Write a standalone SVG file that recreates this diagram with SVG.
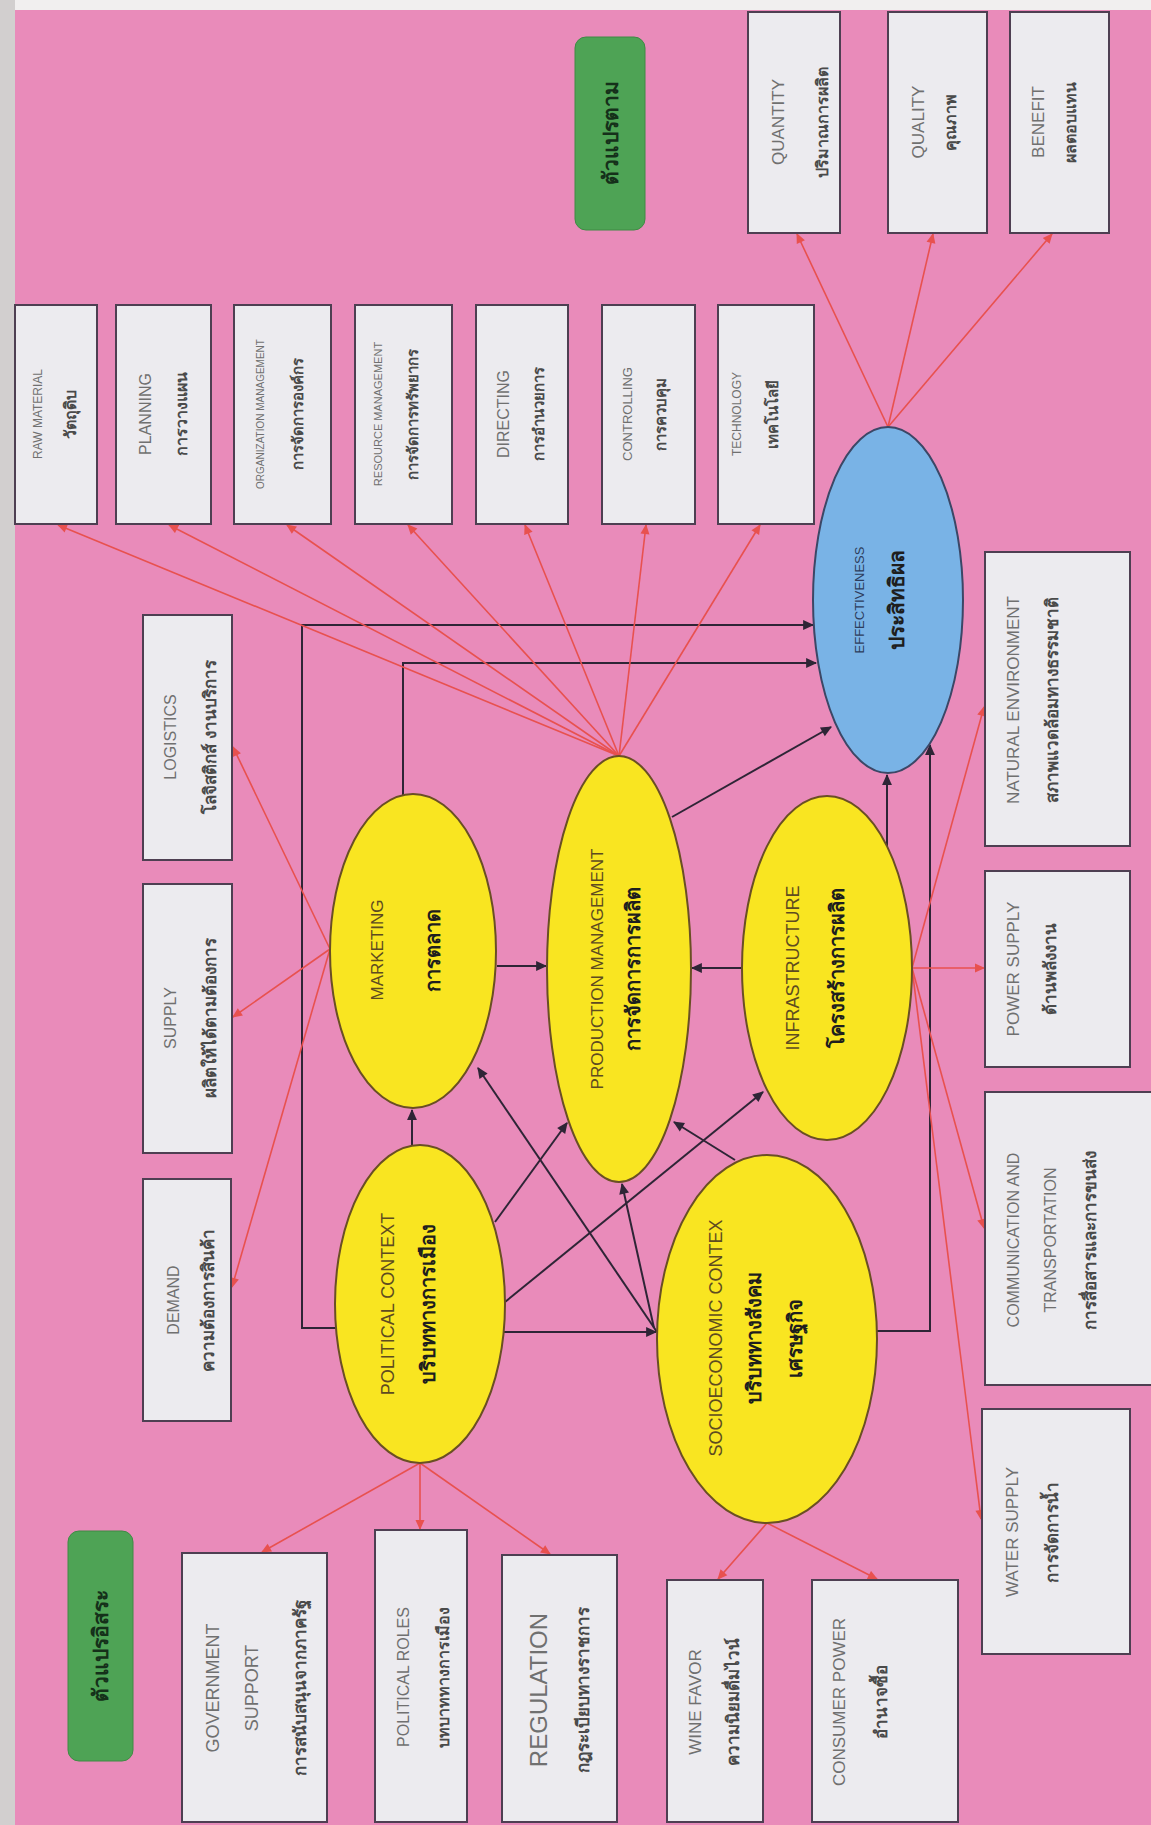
<svg xmlns="http://www.w3.org/2000/svg" width="1151" height="1825" viewBox="0 0 1151 1825">
<style>
.box{fill:#ecebef;stroke:#4e3f52;stroke-width:2}
.ell{fill:#f9e521;stroke:#6a4f24;stroke-width:2}
.blue{fill:#79b3e6;stroke:#3c4766;stroke-width:2}
.green{fill:#4ea355;stroke:#3f8a45;stroke-width:1}
text{font-family:"Liberation Sans","Noto Sans","DejaVu Sans",sans-serif;text-anchor:middle;dominant-baseline:central}
.en{fill:#707070}
.th{fill:#4a4a4a;font-weight:bold}
.een{fill:#5e4b20}
.eth{fill:#1e1e1e;font-weight:bold}
.gth{fill:#15301a;font-weight:bold;font-size:21px}
.k{fill:none;stroke:#2e2536;stroke-width:2}
.r{fill:none;stroke:#e8514f;stroke-width:1.6}
</style>
<defs>
<marker id="ak" viewBox="0 0 10 10" refX="9" refY="5" markerWidth="13" markerHeight="11" markerUnits="userSpaceOnUse" orient="auto"><path d="M0,0.5 L10,5 L0,9.5 z" fill="#2e2536"/></marker>
<marker id="ar" viewBox="0 0 10 10" refX="9" refY="5" markerWidth="11" markerHeight="10" markerUnits="userSpaceOnUse" orient="auto"><path d="M0,0.5 L10,5 L0,9.5 z" fill="#e8514f"/></marker>
</defs>
<rect x="0" y="0" width="1151" height="1825" fill="#f1efef"/>
<rect x="0" y="0" width="15" height="1825" fill="#d2cfcf"/>
<rect x="15" y="10" width="1136" height="1815" fill="#e98bba"/>

<g id="connectors">
<g id="black-connectors" marker-end="url(#ak)">
<path class="k" d="M412,1145 L412,1110"/>
<path class="k" d="M495,1222 L567,1123"/>
<path class="k" d="M505,1302 L763,1092"/>
<path class="k" d="M504,1332 L656,1332"/>
<path class="k" d="M336,1328 L302,1328 L302,625 L813,625"/>
<path class="k" d="M497,966 L546,966"/>
<path class="k" d="M403,795 L403,663 L816,663"/>
<path class="k" d="M742,968 L692,968"/>
<path class="k" d="M672,817 L831,727"/>
<path class="k" d="M887,846 L887,775"/>
<path class="k" d="M877,1331 L930,1331 L930,745"/>
<path class="k" d="M657,1332 L478,1068"/>
<path class="k" d="M654,1328 L622,1184"/>
<path class="k" d="M735,1160 L674,1122"/>
</g>
<g id="red-connectors" marker-end="url(#ar)">
<path class="r" d="M619,756 L58,525"/>
<path class="r" d="M619,756 L169,525"/>
<path class="r" d="M619,756 L287,525"/>
<path class="r" d="M619,756 L408,525"/>
<path class="r" d="M619,756 L525,525"/>
<path class="r" d="M619,756 L646,525"/>
<path class="r" d="M619,756 L760,525"/>
<path class="r" d="M330,949 L233,747"/>
<path class="r" d="M330,949 L233,1017"/>
<path class="r" d="M330,949 L232,1287"/>
<path class="r" d="M888,427 L797,234"/>
<path class="r" d="M888,427 L933,234"/>
<path class="r" d="M888,427 L1052,234"/>
<path class="r" d="M912,968 L984,707"/>
<path class="r" d="M912,968 L984,968"/>
<path class="r" d="M912,968 L984,1228"/>
<path class="r" d="M912,968 L981,1519"/>
<path class="r" d="M420,1463 L262,1552"/>
<path class="r" d="M420,1463 L420,1529"/>
<path class="r" d="M420,1463 L550,1554"/>
<path class="r" d="M767,1523 L718,1579"/>
<path class="r" d="M767,1523 L877,1579"/>
</g>
</g>

<g id="raw-material"><rect class="box" x="15" y="305" width="82" height="219"/>
<g transform="translate(56,414) rotate(-90)"><text class="en" y="-18" font-size="12">RAW MATERIAL</text><text class="th" y="14" font-size="16">วัตถุดิบ</text></g></g>
<g id="planning"><rect class="box" x="116" y="305" width="95" height="219"/>
<g transform="translate(163,414) rotate(-90)"><text class="en" y="-18" font-size="16">PLANNING</text><text class="th" y="18" font-size="16">การวางแผน</text></g></g>
<g id="organization-management"><rect class="box" x="234" y="305" width="97" height="219"/>
<g transform="translate(282,414) rotate(-90)"><text class="en" y="-22" font-size="10">ORGANIZATION MANAGEMENT</text><text class="th" y="15" font-size="15">การจัดการองค์กร</text></g></g>
<g id="resource-management"><rect class="box" x="355" y="305" width="97" height="219"/>
<g transform="translate(403,414) rotate(-90)"><text class="en" y="-25" font-size="11">RESOURCE MANAGEMENT</text><text class="th" y="9" font-size="15">การจัดการทรัพยากร</text></g></g>
<g id="directing"><rect class="box" x="476" y="305" width="92" height="219"/>
<g transform="translate(522,414) rotate(-90)"><text class="en" y="-19" font-size="16">DIRECTING</text><text class="th" y="16" font-size="15">การอำนวยการ</text></g></g>
<g id="controlling"><rect class="box" x="602" y="305" width="93" height="219"/>
<g transform="translate(648,414) rotate(-90)"><text class="en" y="-21" font-size="13">CONTROLLING</text><text class="th" y="12" font-size="15">การควบคุม</text></g></g>
<g id="technology"><rect class="box" x="718" y="305" width="96" height="219"/>
<g transform="translate(766,414) rotate(-90)"><text class="en" y="-29" font-size="12">TECHNOLOGY</text><text class="th" y="6" font-size="15">เทคโนโลยี</text></g></g>

<g id="dependent-label"><rect class="green" x="575" y="37" width="70" height="193" rx="11"/>
<text class="gth" transform="translate(610,133) rotate(-90)">ตัวแปรตาม</text></g>
<g id="quantity"><rect class="box" x="748" y="12" width="92" height="221"/>
<g transform="translate(794,122) rotate(-90)"><text class="en" y="-16" font-size="17">QUANTITY</text><text class="th" y="28" font-size="16">ปริมาณการผลิต</text></g></g>
<g id="quality"><rect class="box" x="888" y="12" width="99" height="221"/>
<g transform="translate(937,122) rotate(-90)"><text class="en" y="-19" font-size="17">QUALITY</text><text class="th" y="13" font-size="16">คุณภาพ</text></g></g>
<g id="benefit"><rect class="box" x="1010" y="12" width="99" height="221"/>
<g transform="translate(1059,122) rotate(-90)"><text class="en" y="-21" font-size="17">BENEFIT</text><text class="th" y="11" font-size="16">ผลตอบแทน</text></g></g>

<g id="logistics"><rect class="box" x="143" y="615" width="89" height="245"/>
<g transform="translate(187,737) rotate(-90)"><text class="en" y="-17" font-size="16">LOGISTICS</text><text class="th" y="23" font-size="17">โลจิสติกส์ งานบริการ</text></g></g>
<g id="supply"><rect class="box" x="143" y="884" width="89" height="269"/>
<g transform="translate(187,1018) rotate(-90)"><text class="en" y="-17" font-size="16">SUPPLY</text><text class="th" y="23" font-size="17">ผลิตให้ได้ตามต้องการ</text></g></g>
<g id="demand"><rect class="box" x="143" y="1179" width="88" height="242"/>
<g transform="translate(187,1300) rotate(-90)"><text class="en" y="-14" font-size="16">DEMAND</text><text class="th" y="21" font-size="17">ความต้องการสินค้า</text></g></g>

<g id="effectiveness"><ellipse class="blue" cx="888" cy="600" rx="75" ry="173"/>
<g transform="translate(888,600) rotate(-90)"><text y="-29" font-size="13" fill="#2d3d5c">EFFECTIVENESS</text><text class="eth" y="8" font-size="21">ประสิทธิผล</text></g></g>
<g id="marketing"><ellipse class="ell" cx="413" cy="951" rx="83" ry="157"/>
<g transform="translate(413,950) rotate(-90)"><text class="een" y="-36" font-size="17">MARKETING</text><text class="eth" y="20" font-size="20">การตลาด</text></g></g>
<g id="production-management"><ellipse class="ell" cx="619" cy="969" rx="72" ry="213"/>
<g transform="translate(619,969) rotate(-90)"><text class="een" y="-22" font-size="17">PRODUCTION MANAGEMENT</text><text class="eth" y="14" font-size="20">การจัดการการผลิต</text></g></g>
<g id="infrastructure"><ellipse class="ell" cx="827" cy="968" rx="85" ry="172"/>
<g transform="translate(827,968) rotate(-90)"><text class="een" y="-34" font-size="18">INFRASTRUCTURE</text><text class="eth" y="10" font-size="20">โครงสร้างการผลิต</text></g></g>
<g id="political-context"><ellipse class="ell" cx="420" cy="1304" rx="85" ry="159"/>
<g transform="translate(420,1304) rotate(-90)"><text class="een" y="-32" font-size="18">POLITICAL CONTEXT</text><text class="eth" y="8" font-size="20">บริบททางการเมือง</text></g></g>
<g id="socioeconomic-context"><ellipse class="ell" cx="767" cy="1339" rx="110" ry="184"/>
<g transform="translate(767,1338) rotate(-90)"><text class="een" y="-51" font-size="18">SOCIOECONOMIC CONTEX</text><text class="eth" y="-13" font-size="20">บริบททางสังคม</text><text class="eth" y="28" font-size="20">เศรษฐกิจ</text></g></g>

<g id="natural-environment"><rect class="box" x="985" y="552" width="145" height="294"/>
<g transform="translate(1057,700) rotate(-90)"><text class="en" y="-44" font-size="17">NATURAL ENVIRONMENT</text><text class="th" y="-5" font-size="17">สภาพแวดล้อมทางธรรมชาติ</text></g></g>
<g id="power-supply"><rect class="box" x="985" y="871" width="145" height="196"/>
<g transform="translate(1057,969) rotate(-90)"><text class="en" y="-44" font-size="17">POWER SUPPLY</text><text class="th" y="-7" font-size="17">ด้านพลังงาน</text></g></g>
<g id="communication-transportation"><rect class="box" x="985" y="1092" width="180" height="293"/>
<g transform="translate(1057,1240) rotate(-90)"><text class="en" y="-44" font-size="16">COMMUNICATION AND</text><text class="en" y="-7" font-size="16">TRANSPORTATION</text><text class="th" y="33" font-size="17">การสื่อสารและการขนส่ง</text></g></g>
<g id="water-supply"><rect class="box" x="982" y="1409" width="148" height="245"/>
<g transform="translate(1056,1532) rotate(-90)"><text class="en" y="-44" font-size="17">WATER SUPPLY</text><text class="th" y="-4" font-size="17">การจัดการน้ำ</text></g></g>

<g id="independent-label"><rect class="green" x="68" y="1531" width="65" height="230" rx="11"/>
<text class="gth" transform="translate(100,1646) rotate(-90)">ตัวแปรอิสระ</text></g>
<g id="government-support"><rect class="box" x="182" y="1553" width="145" height="269"/>
<g transform="translate(254,1688) rotate(-90)"><text class="en" y="-41" font-size="18">GOVERNMENT</text><text class="en" y="-2" font-size="18">SUPPORT</text><text class="th" y="46" font-size="17">การสนับสนุนจากภาครัฐ</text></g></g>
<g id="political-roles"><rect class="box" x="375" y="1530" width="92" height="292"/>
<g transform="translate(421,1677) rotate(-90)"><text class="en" y="-18" font-size="16">POLITICAL ROLES</text><text class="th" y="22" font-size="16">บทบาททางการเมือง</text></g></g>
<g id="regulation"><rect class="box" x="502" y="1555" width="115" height="267"/>
<g transform="translate(559,1690) rotate(-90)"><text class="en" y="-21" font-size="24">REGULATION</text><text class="th" y="24" font-size="17">กฎระเบียบทางราชการ</text></g></g>
<g id="wine-favor"><rect class="box" x="667" y="1580" width="96" height="242"/>
<g transform="translate(715,1702) rotate(-90)"><text class="en" y="-20" font-size="17">WINE FAVOR</text><text class="th" y="18" font-size="17">ความนิยมดื่มไวน์</text></g></g>
<g id="consumer-power"><rect class="box" x="812" y="1580" width="146" height="242"/>
<g transform="translate(885,1702) rotate(-90)"><text class="en" y="-46" font-size="17">CONSUMER POWER</text><text class="th" y="-4" font-size="17">อำนาจซื้อ</text></g></g>
</svg>
